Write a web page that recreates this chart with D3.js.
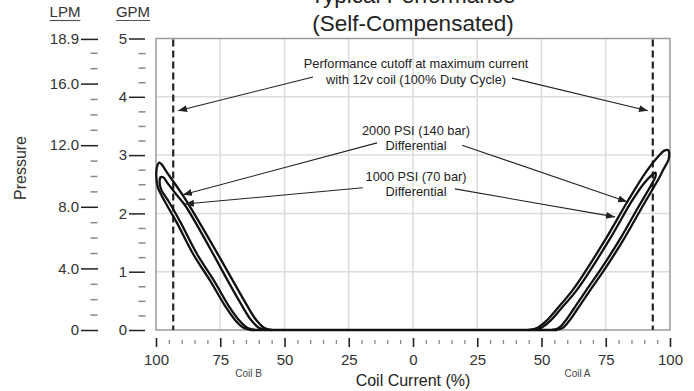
<!DOCTYPE html>
<html><head><meta charset="utf-8">
<script src="https://cdn.jsdelivr.net/npm/d3@7"></script>
<style>
html,body{margin:0;padding:0;background:#fff;}
svg{display:block;font-family:"Liberation Sans",Arial,Helvetica,sans-serif;}
</style></head><body>
<svg id="chart" width="694" height="391"></svg>
<script>
// ---------- data ----------
const titleLines = ["Typical Performance", "(Self-Compensated)"];
const xTitle = "Coil Current (%)";
const yTitle = "Pressure";
const coilLabels = [{coil: "B", text: "Coil B", at: -64}, {coil: "A", text: "Coil A", at: 64}];
const xMajorTicks = [-100, -75, -50, -25, 0, 25, 50, 75, 100];
const xMinorTicks = d3.range(-95, 100, 5).filter(v => v % 25 !== 0);
const gpmTicks = [0, 1, 2, 3, 4, 5];
const gpmMinorTicks = d3.range(0.25, 5, 0.25).filter(v => v % 1 !== 0);
const gpmGrid = [1, 2, 3, 4];
const lpmPerGpm = 3.7854;
const lpmTicks = [0, 4, 8, 12, 16, 18.9];
const lpmTickLabels = ["0", "4.0", "8.0", "12.0", "16.0", "18.9"];
const lpmMinorTicks = [1, 2, 3, 5, 6, 7, 9, 10, 11, 13, 14, 15, 17, 18];
const cutoffCurrent = 93.3;

// loops: [current %, flow GPM]
const flow2000CoilB = [[63,0],[66,0.04],[69,0.16],[73.2,0.42],[79,0.85],[85.5,1.3],[92,1.85],[96.5,2.2],[99.3,2.45],[99.9,2.65],[99.6,2.8],[98.8,2.87],[97.8,2.84],[96,2.72],[92.5,2.5],[89.4,2.3],[82.5,1.8],[75.7,1.28],[69.5,0.8],[64.7,0.43],[61,0.17],[58,0.04],[55,0]];
const flow1000CoilB = [[61.5,0],[64.5,0.04],[67.5,0.16],[71.8,0.42],[77.5,0.85],[84,1.3],[90.5,1.85],[95,2.2],[97.9,2.4],[98.6,2.53],[98.2,2.62],[97.2,2.62],[95.5,2.52],[92,2.32],[88.7,2.14],[82.5,1.68],[77.7,1.3],[71.5,0.8],[66.7,0.43],[63,0.17],[60,0.04],[57,0]];
const flow2000CoilA = [[45,0],[48.5,0.04],[52,0.16],[56,0.36],[62.4,0.7],[74.7,1.54],[83.4,2.2],[90.5,2.7],[95.5,2.98],[98,3.08],[99.4,3.08],[99.7,3.02],[99.4,2.92],[97.5,2.76],[95.9,2.62],[88.8,2.08],[81.8,1.54],[75,1.07],[68.9,0.68],[64,0.36],[60.5,0.14],[58,0.03],[55.5,0]];
const flow1000CoilA = [[46.5,0],[50,0.04],[53.5,0.16],[57.5,0.36],[64,0.7],[76.3,1.54],[85,2.2],[90,2.52],[93,2.66],[94.3,2.7],[94.4,2.64],[93.5,2.55],[87.3,2.08],[80.3,1.54],[73.5,1.07],[67.4,0.68],[62.5,0.36],[59,0.14],[56.5,0.03],[54,0]];
const zeroFlow = [[-63,0],[56,0]];

// annotations in data units (signed current: coil B negative, GPM)
const noteLines = [
  {text: "Performance cutoff at maximum current", s: 1.2, g: 4.49},
  {text: "with 12v coil (100% Duty Cycle)", s: 1.2, g: 4.22},
  {text: "2000 PSI (140 bar)", s: 1.2, g: 3.34},
  {text: "Differential", s: 1.2, g: 3.09},
  {text: "1000 PSI (70 bar)", s: 1.2, g: 2.56},
  {text: "Differential", s: 1.2, g: 2.30}
];
const noteArrows = [
  {from: [-38.9, 4.34], to: [-91.4, 3.76]},
  {from: [38.5, 4.32], to: [91.4, 3.76]},
  {from: [-14.0, 3.21], to: [-89.5, 2.32]},
  {from: [19.1, 3.17], to: [83.3, 2.20]},
  {from: [-19.5, 2.44], to: [-88.7, 2.16]},
  {from: [16.3, 2.42], to: [78.6, 1.94]}
];

// ---------- chart ----------
const svg = d3.select("#chart");
const plot = {left: 156, right: 670, top: 38.5, bottom: 330};
const x = d3.scaleLinear().domain([-100, 100]).range([plot.left, plot.right]);
const y = d3.scaleLinear().domain([0, 5]).range([plot.bottom, plot.top]);
const yL = d3.scaleLinear().domain([0, 5 * lpmPerGpm]).range([plot.bottom, plot.top]);

svg.append("rect").attr("width", 694).attr("height", 391).attr("fill", "#fff");

// grid
svg.append("g").selectAll("line").data(xMajorTicks.filter(d => Math.abs(d) !== 100)).join("line")
  .attr("x1", d => x(d)).attr("x2", d => x(d)).attr("y1", plot.top).attr("y2", plot.bottom)
  .attr("stroke", "#dcdcdc").attr("stroke-width", 1.5);
svg.append("g").selectAll("line").data(gpmGrid).join("line")
  .attr("x1", plot.left).attr("x2", plot.right).attr("y1", d => y(d)).attr("y2", d => y(d))
  .attr("stroke", "#dcdcdc").attr("stroke-width", 1.5);
svg.append("rect").attr("x", plot.left).attr("y", plot.top)
  .attr("width", plot.right - plot.left).attr("height", plot.bottom - plot.top)
  .attr("fill", "none").attr("stroke", "#9a9a9a").attr("stroke-width", 1.5);

// x axis
const gx = svg.append("g").attr("transform", "translate(0,338)")
  .call(d3.axisBottom(x).tickValues(xMajorTicks).tickSize(9).tickFormat(d => Math.abs(d)));
gx.select(".domain").remove();
gx.selectAll("line").attr("stroke", "#222").attr("stroke-width", 1.6);
gx.selectAll("text").attr("y", 27).attr("dy", 0).attr("fill", "#333")
  .style("font-size", "15px").style("font-family", "Liberation Sans, Arial, sans-serif");
const gxm = svg.append("g").attr("transform", "translate(0,340)")
  .call(d3.axisBottom(x).tickValues(xMinorTicks).tickSize(4).tickFormat(""));
gxm.select(".domain").remove();
gxm.selectAll("line").attr("stroke", "#888").attr("stroke-width", 1.3);

// GPM axis
const gy = svg.append("g").attr("transform", "translate(145,0)")
  .call(d3.axisLeft(y).tickValues(gpmTicks).tickSize(16).tickPadding(2).tickFormat(d3.format("d")));
gy.select(".domain").remove();
gy.selectAll("line").attr("stroke", "#222").attr("stroke-width", 1.5);
gy.selectAll("text").attr("fill", "#333").style("font-size", "15px").style("font-family", "Liberation Sans, Arial, sans-serif");
const gym = svg.append("g").attr("transform", "translate(145.5,0)")
  .call(d3.axisLeft(y).tickValues(gpmMinorTicks).tickSize(7).tickFormat(""));
gym.select(".domain").remove();
gym.selectAll("line").attr("stroke", "#888").attr("stroke-width", 1.5);

// LPM axis
const gl = svg.append("g").attr("transform", "translate(98,0)")
  .call(d3.axisLeft(yL).tickValues(lpmTicks).tickSize(17).tickPadding(2).tickFormat((d, i) => lpmTickLabels[i]));
gl.select(".domain").remove();
gl.selectAll("line").attr("stroke", "#222").attr("stroke-width", 1.5);
gl.selectAll("text").attr("fill", "#333").style("font-size", "15px").style("font-family", "Liberation Sans, Arial, sans-serif");
const glm = svg.append("g").attr("transform", "translate(97.5,0)")
  .call(d3.axisLeft(yL).tickValues(lpmMinorTicks).tickSize(7).tickFormat(""));
glm.select(".domain").remove();
glm.selectAll("line").attr("stroke", "#888").attr("stroke-width", 1.5);

// unit headers
[{t: "LPM", cx: 65}, {t: "GPM", cx: 133}].forEach(u => {
  const t = svg.append("text").attr("x", u.cx).attr("y", 17).attr("text-anchor", "middle")
    .attr("fill", "#333").style("font-size", "15px").text(u.t);
  const bb = t.node().getBBox();
  svg.append("line").attr("x1", bb.x).attr("x2", bb.x + bb.width).attr("y1", 20.5).attr("y2", 20.5)
    .attr("stroke", "#555").attr("stroke-width", 1.2);
});

// titles
svg.selectAll("text.title").data(titleLines).join("text").attr("class", "title")
  .attr("x", x(0)).attr("y", (d, i) => 3 + i * 28).attr("text-anchor", "middle")
  .attr("fill", "#222").style("font-size", "22.5px").text(d => d);
svg.append("text").attr("x", x(0)).attr("y", 386).attr("text-anchor", "middle")
  .attr("fill", "#222").style("font-size", "16px").text(xTitle);
svg.append("text").attr("transform", "translate(26,168) rotate(-90)").attr("text-anchor", "middle")
  .attr("fill", "#333").style("font-size", "16px").text(yTitle);
svg.selectAll("text.coil").data(coilLabels).join("text").attr("class", "coil")
  .attr("x", d => x(d.at)).attr("y", 377).attr("text-anchor", "middle")
  .attr("fill", "#444").style("font-size", "10px").text(d => d.text);

// cutoff dashed lines
svg.append("g").selectAll("line").data([-cutoffCurrent, cutoffCurrent]).join("line")
  .attr("x1", d => x(d)).attr("x2", d => x(d)).attr("y1", plot.top + 1).attr("y2", plot.bottom)
  .attr("stroke", "#222").attr("stroke-width", 2.2).attr("stroke-dasharray", "7,4");

// flow loops
const line = sign => d3.line().x(d => x(sign * d[0])).y(d => y(d[1])).curve(d3.curveCatmullRom.alpha(0.5));
const loops = [
  {data: flow2000CoilB, sign: -1}, {data: flow1000CoilB, sign: -1},
  {data: flow2000CoilA, sign: 1}, {data: flow1000CoilA, sign: 1}
];
svg.append("g").selectAll("path").data(loops).join("path")
  .attr("d", d => line(d.sign)(d.data)).attr("fill", "none")
  .attr("stroke", "#111").attr("stroke-width", 2.3).attr("stroke-linejoin", "round");
svg.append("path").attr("d", line(1)(zeroFlow)).attr("fill", "none")
  .attr("stroke", "#111").attr("stroke-width", 2.6);

// arrows
svg.append("defs").append("marker").attr("id", "ah").attr("markerUnits", "userSpaceOnUse")
  .attr("markerWidth", 10).attr("markerHeight", 8).attr("refX", 9).attr("refY", 3.5).attr("orient", "auto")
  .append("path").attr("d", "M0,0 L9,3.5 L0,7 Z").attr("fill", "#222");
svg.append("g").selectAll("line").data(noteArrows).join("line")
  .attr("x1", d => x(d.from[0])).attr("y1", d => y(d.from[1]))
  .attr("x2", d => x(d.to[0])).attr("y2", d => y(d.to[1]))
  .attr("stroke", "#222").attr("stroke-width", 1.1).attr("marker-end", "url(#ah)");
svg.append("g").selectAll("text").data(noteLines).join("text")
  .attr("x", d => x(d.s)).attr("y", d => y(d.g)).attr("text-anchor", "middle")
  .attr("fill", "#222").style("font-size", "12.8px").text(d => d.text);
</script>
</body></html>
